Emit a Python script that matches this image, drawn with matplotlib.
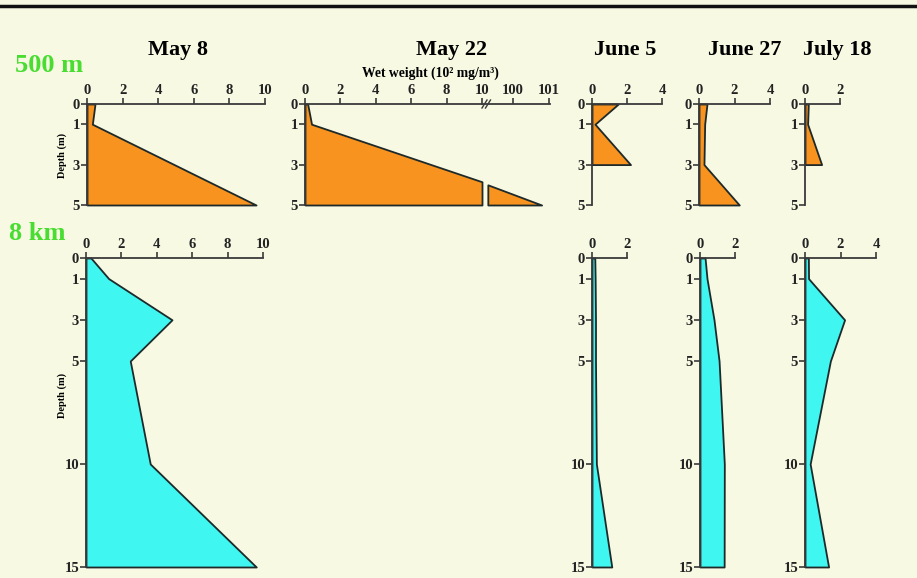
import matplotlib.pyplot as plt
import numpy as np
from matplotlib.lines import Line2D

# depths (m)
depth_500 = [0, 1, 3, 5]
depth_8k = [0, 1, 3, 5, 10, 15]

# wet weight (10^2 mg/m^3), station 500 m
may8_500 = [0.45, 0.3, 4.9, 9.5]
may22_depth = [0, 1, 3.85, 5]
may22_500 = [0.15, 0.37, 10, 10]
may22_hi_depth = [4, 5]
may22_hi_500 = [99.32, 100.8]
june5_depth = [0, 1, 3]
june5_500 = [1.5, 0.17, 2.2]
june27_500 = [0.45, 0.32, 0.28, 2.27]
july18_depth = [0, 1, 3]
july18_500 = [0.19, 0.15, 0.95]

# station 8 km
may8_8k = [0.28, 1.28, 4.86, 2.5, 3.63, 9.62]
june5_8k = [0.16, 0.18, 0.2, 0.2, 0.25, 1.13]
june27_8k = [0.29, 0.4, 0.8, 1.09, 1.39, 1.38]
july18_8k = [0.19, 0.2, 2.23, 1.43, 0.29, 1.33]

titles = ["May 8", "May 22", "June 5", "June 27", "July 18"]
title_x = [178, 452, 625, 745, 837]

W, H = 917, 578
BG = '#f7f9e3'
ORANGE = '#f7931e'
CYAN = '#40f6f0'
EDGE = '#1e2a2a'
AXC = '#3a3a3a'
plt.rcParams['font.family'] = 'Liberation Serif'
plt.rcParams['font.weight'] = 'bold'

fig = plt.figure(figsize=(W / 100, H / 100), dpi=100, facecolor=BG)


def panel(x0, x1, y0, y1, xmax, dmax, xticks, yticks, xmin=0):
    ax = fig.add_axes([x0 / W, 1 - y1 / H, (x1 - x0) / W, (y1 - y0) / H])
    ax.set_facecolor('none')
    ax.set_xlim(xmin, xmax)
    ax.set_ylim(dmax, 0)
    for s in ['right', 'bottom']:
        ax.spines[s].set_visible(False)
    for s in ['left', 'top']:
        ax.spines[s].set_color(AXC)
        ax.spines[s].set_linewidth(1.3)
    ax.xaxis.tick_top()
    ax.set_xticks(xticks)
    ax.set_yticks(yticks)
    ax.tick_params(length=4, width=1.2, color=AXC, labelsize=10.5,
                   pad=1, labelcolor='#222222')
    return ax


def profile(ax, d, v, color, base=0):
    ax.fill_betweenx(d, base, v, facecolor=color, edgecolor=EDGE,
                     linewidth=1.3, clip_on=False, zorder=1)


# top row: 500 m
ty0, ty1 = 104, 205
ax = panel(87, 265, ty0, ty1, 10, 5, [0, 2, 4, 6, 8, 10], [0, 1, 3, 5])
profile(ax, depth_500, may8_500, ORANGE)

ax = panel(305, 482, ty0, ty1, 10, 5, [0, 2, 4, 6, 8, 10], [0, 1, 3, 5])
profile(ax, may22_depth, may22_500, ORANGE)
ax = panel(482, 550, ty0, ty1, 101.03, 5, [100, 101], [], xmin=99.16)
ax.spines['left'].set_visible(False)
ax.tick_params(axis='y', length=0)
profile(ax, may22_hi_depth, may22_hi_500, ORANGE, base=99.32)

ax = panel(592, 662, ty0, ty1, 4, 5, [0, 2, 4], [0, 1, 3, 5])
profile(ax, june5_depth, june5_500, ORANGE)
ax = panel(699, 770, ty0, ty1, 4, 5, [0, 2, 4], [0, 1, 3, 5])
profile(ax, depth_500, june27_500, ORANGE)
ax = panel(805, 840, ty0, ty1, 2, 5, [0, 2], [0, 1, 3, 5])
profile(ax, july18_depth, july18_500, ORANGE)

# bottom row: 8 km
by0, by1 = 258, 567
yt = [0, 1, 3, 5, 10, 15]
ax = panel(86, 263, by0, by1, 10, 15, [0, 2, 4, 6, 8, 10], yt)
profile(ax, depth_8k, may8_8k, CYAN)
ax = panel(592, 627, by0, by1, 2, 15, [0, 2], yt)
profile(ax, depth_8k, june5_8k, CYAN)
ax = panel(700, 735, by0, by1, 2, 15, [0, 2], yt)
profile(ax, depth_8k, june27_8k, CYAN)
ax = panel(805, 876, by0, by1, 4, 15, [0, 2, 4], yt)
profile(ax, depth_8k, july18_8k, CYAN)

# texts
for t, x in zip(titles, title_x):
    fig.text(x / W, 1 - 50 / H, t, ha='center', va='center', fontsize=16)
fig.text(430 / W, 1 - 73 / H, "Wet weight (10² mg/m³)", ha='center',
         va='center', fontsize=9.8)
fig.text(15 / W, 1 - 66 / H, "500 m", ha='left', va='center', fontsize=19,
         color='#48dd30')
fig.text(9 / W, 1 - 234 / H, "8 km", ha='left', va='center', fontsize=19,
         color='#48dd30')
fig.text(62 / W, 1 - 155 / H, "Depth (m)", rotation=90, ha='center',
         va='center', fontsize=7.5)
fig.text(62 / W, 1 - 395 / H, "Depth (m)", rotation=90, ha='center',
         va='center', fontsize=7.5)

# axis break mark and top border
for dx in (0, 3.5):
    fig.add_artist(Line2D([(482 + dx) / W, (487 + dx) / W],
                          [1 - 108 / H, 1 - 100 / H], color=AXC, lw=1))
fig.add_artist(Line2D([0, 1], [1 - 6 / H, 1 - 6 / H], color='#111111', lw=2.5))

fig.savefig('out.png', dpi=100, facecolor=BG)
